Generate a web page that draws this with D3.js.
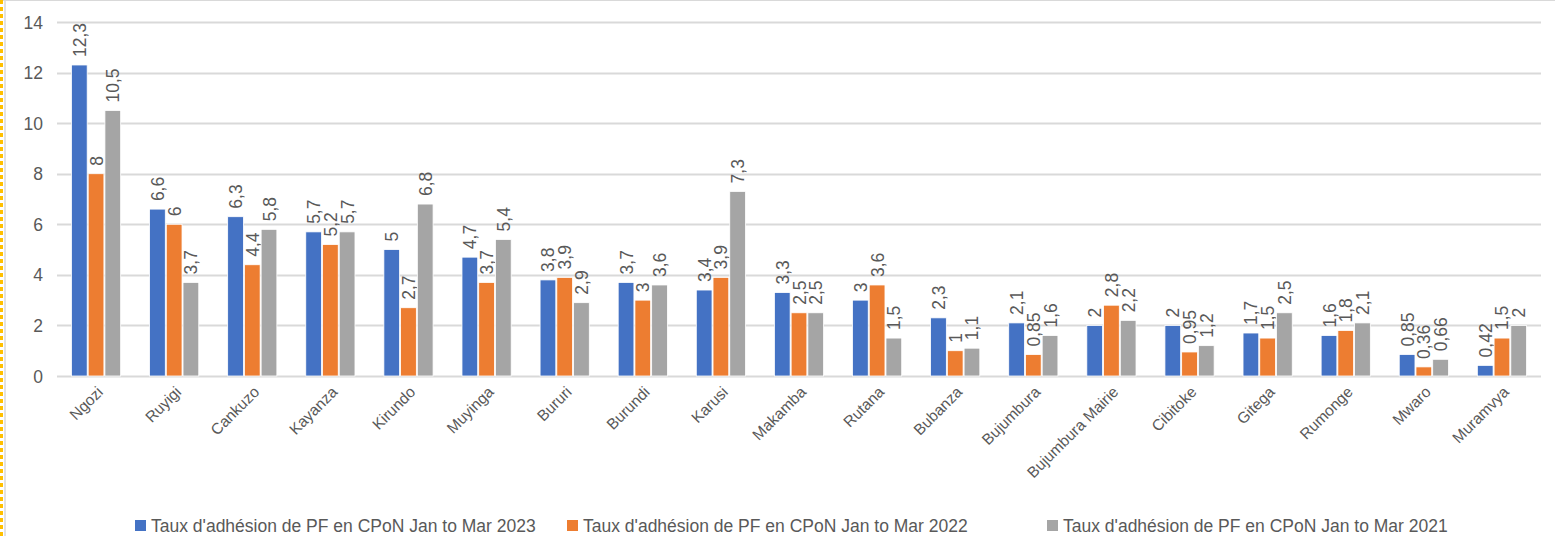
<!DOCTYPE html>
<html>
<head>
<meta charset="utf-8">
<script src="https://cdn.jsdelivr.net/npm/d3@7"></script>
<style>
  html, body { margin: 0; padding: 0; background: #fff; }
  svg { display: block; }
  text { font-family: "Liberation Sans", Arial, sans-serif; fill: #595959; }
</style>
</head>
<body>
<svg id="chart" width="1555" height="536"></svg>
<script>
const categories = ["Ngozi", "Ruyigi", "Cankuzo", "Kayanza", "Kirundo", "Muyinga", "Bururi", "Burundi", "Karusi", "Makamba", "Rutana", "Bubanza", "Bujumbura", "Bujumbura Mairie", "Cibitoke", "Gitega", "Rumonge", "Mwaro", "Muramvya"];
const values2023 = [12.3, 6.6, 6.3, 5.7, 5, 4.7, 3.8, 3.7, 3.4, 3.3, 3, 2.3, 2.1, 2, 2, 1.7, 1.6, 0.85, 0.42];
const values2022 = [8, 6, 4.4, 5.2, 2.7, 3.7, 3.9, 3, 3.9, 2.5, 3.6, 1, 0.85, 2.8, 0.95, 1.5, 1.8, 0.36, 1.5];
const values2021 = [10.5, 3.7, 5.8, 5.7, 6.8, 5.4, 2.9, 3.6, 7.3, 2.5, 1.5, 1.1, 1.6, 2.2, 1.2, 2.5, 2.1, 0.66, 2];
const seriesNames = [
  "Taux d'adhésion de PF en CPoN Jan to Mar 2023",
  "Taux d'adhésion de PF en CPoN Jan to Mar 2022",
  "Taux d'adhésion de PF en CPoN Jan to Mar 2021"
];
const seriesColors = ["#4472C4", "#ED7D31", "#A5A5A5"];
const yTicks = [0, 2, 4, 6, 8, 10, 12, 14];

const series = [values2023, values2022, values2021];
const svg = d3.select("#chart");

// frame: light top/left rules and dashed yellow left edge
svg.append("line").attr("x1", 0).attr("x2", 1555).attr("y1", 0.5).attr("y2", 0.5)
  .attr("stroke", "#d9d9d9").attr("stroke-width", 1);
svg.append("line").attr("x1", 5).attr("x2", 5).attr("y1", 0).attr("y2", 536)
  .attr("stroke", "#d9d9d9").attr("stroke-width", 1.5);
svg.append("line").attr("x1", 1.5).attr("x2", 1.5).attr("y1", 0).attr("y2", 536)
  .attr("stroke", "#FFC000").attr("stroke-width", 3).attr("stroke-dasharray", "4,3");

const plotLeft = 57, plotRight = 1541, plotTop = 22, plotBottom = 376;

const x = d3.scaleBand().domain(categories).range([plotLeft, plotRight]).paddingInner(0).paddingOuter(0);
const y = d3.scaleLinear().domain([0, 14]).range([plotBottom, plotTop]);

const groupWidth = x.bandwidth() * 0.63;
const xs = d3.scaleBand().domain([0, 1, 2]).range([0, groupWidth]).paddingInner(0.06);

// gridlines
svg.append("g").selectAll("line").data(yTicks).join("line")
  .attr("x1", plotLeft).attr("x2", plotRight)
  .attr("y1", d => Math.round(y(d)) + 0.5).attr("y2", d => Math.round(y(d)) + 0.5)
  .attr("stroke", "#d9d9d9").attr("stroke-width", 2);

// y axis labels
const yAxis = d3.axisLeft(y).tickValues(yTicks).tickSize(0).tickPadding(0).tickFormat(d3.format("d"));
const yg = svg.append("g").attr("transform", `translate(${plotLeft - 14},0)`).call(yAxis);
yg.select(".domain").remove();
yg.selectAll("text").style("font-size", "17.5px").attr("fill", "#595959")
  .attr("font-family", "'Liberation Sans', Arial, sans-serif").attr("dy", "0.35em");

const fmt = v => String(v).replace(".", ",");

// bars and labels
series.forEach((vals, si) => {
  const g = svg.append("g");
  g.selectAll("rect").data(vals).join("rect")
    .attr("x", (d, i) => x(categories[i]) + (x.bandwidth() - groupWidth) / 2 + xs(si))
    .attr("y", d => y(d))
    .attr("width", xs.bandwidth())
    .attr("height", d => y(0) - y(d))
    .attr("fill", seriesColors[si])
    .attr("stroke", "#fff").attr("stroke-width", 0.8);
  g.selectAll("text").data(vals).join("text")
    .attr("transform", (d, i) => {
      const cx = x(categories[i]) + (x.bandwidth() - groupWidth) / 2 + xs(si) + xs.bandwidth() / 2;
      return `translate(${cx + 6.5},${y(d) - 8}) rotate(-90)`;
    })
    .attr("text-anchor", "start")
    .style("font-size", "17.5px")
    .text(d => fmt(d));
});

// category labels
const xAxis = d3.axisBottom(x).tickSize(0).tickPadding(0);
const xg = svg.append("g").attr("transform", `translate(0,${plotBottom})`).call(xAxis);
xg.select(".domain").remove();
xg.selectAll("text")
  .attr("font-family", "'Liberation Sans', Arial, sans-serif")
  .attr("fill", "#595959")
  .style("font-size", "15.5px")
  .attr("text-anchor", "end")
  .attr("dy", null)
  .attr("y", 0)
  .attr("transform", "translate(8,17) rotate(-45)");

// legend
const legendX = [135, 567, 1047];
const legend = svg.append("g");
seriesNames.forEach((name, i) => {
  legend.append("rect").attr("x", legendX[i]).attr("y", 520).attr("width", 11).attr("height", 11)
    .attr("fill", seriesColors[i]);
  legend.append("text").attr("x", legendX[i] + 16).attr("y", 532)
    .style("font-size", "17.5px").text(name);
});
</script>
</body>
</html>
